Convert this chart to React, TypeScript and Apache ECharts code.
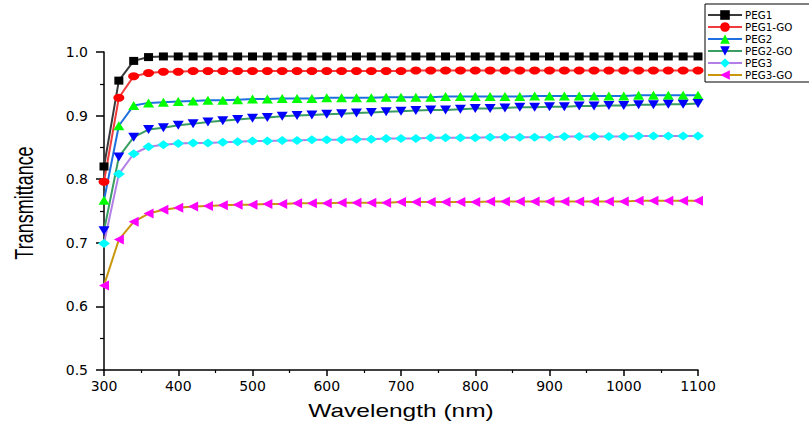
import React, { useEffect, useRef } from "react";
import * as echarts from "echarts";

const wavelengths = [
  300, 320, 340, 360, 380, 400, 420, 440, 460, 480, 500, 520, 540, 560, 580, 600, 620, 640, 660, 680, 700,
  720, 740, 760, 780, 800, 820, 840, 860, 880, 900, 920, 940, 960, 980, 1000, 1020, 1040, 1060, 1080, 1100,
];

const peg1 = [
  0.820, 0.955, 0.986, 0.992, 0.993, 0.993, 0.993, 0.993, 0.993, 0.993, 0.993, 0.993, 0.993, 0.993, 0.993,
  0.993, 0.993, 0.993, 0.993, 0.993, 0.993, 0.993, 0.993, 0.993, 0.993, 0.993, 0.993, 0.993, 0.993, 0.993,
  0.993, 0.993, 0.993, 0.993, 0.993, 0.993, 0.993, 0.993, 0.993, 0.993, 0.993,
];
const peg1go = [
  0.796, 0.928, 0.962, 0.967, 0.969, 0.969, 0.970, 0.970, 0.970, 0.970, 0.970, 0.970, 0.970, 0.970, 0.970,
  0.970, 0.970, 0.970, 0.970, 0.970, 0.970, 0.971, 0.971, 0.971, 0.971, 0.971, 0.971, 0.971, 0.971, 0.971,
  0.971, 0.971, 0.971, 0.971, 0.971, 0.971, 0.971, 0.971, 0.971, 0.971, 0.971,
];
const peg2 = [
  0.767, 0.884, 0.916, 0.920, 0.921, 0.922, 0.923, 0.924, 0.924, 0.925, 0.926, 0.926, 0.927, 0.927, 0.927,
  0.928, 0.928, 0.928, 0.928, 0.929, 0.929, 0.929, 0.929, 0.930, 0.930, 0.930, 0.930, 0.930, 0.930, 0.931,
  0.931, 0.931, 0.931, 0.931, 0.931, 0.931, 0.932, 0.932, 0.932, 0.932, 0.932,
];
const peg2go = [
  0.719, 0.835, 0.866, 0.878, 0.881, 0.885, 0.887, 0.890, 0.892, 0.894, 0.896, 0.897, 0.899, 0.900, 0.901,
  0.902, 0.903, 0.904, 0.905, 0.906, 0.907, 0.908, 0.909, 0.909, 0.910, 0.911, 0.911, 0.912, 0.913, 0.913,
  0.914, 0.914, 0.915, 0.915, 0.916, 0.916, 0.917, 0.917, 0.918, 0.918, 0.919,
];
const peg3 = [
  0.699, 0.808, 0.840, 0.851, 0.854, 0.856, 0.857, 0.857, 0.858, 0.859, 0.860, 0.860, 0.861, 0.861, 0.862,
  0.862, 0.862, 0.863, 0.863, 0.864, 0.864, 0.864, 0.865, 0.865, 0.865, 0.865, 0.866, 0.866, 0.866, 0.866,
  0.866, 0.867, 0.867, 0.867, 0.867, 0.867, 0.868, 0.868, 0.868, 0.868, 0.868,
];
const peg3go = [
  0.633, 0.705, 0.733, 0.746, 0.752, 0.755, 0.757, 0.758, 0.759, 0.760, 0.760, 0.761, 0.761, 0.762, 0.762,
  0.762, 0.763, 0.763, 0.763, 0.763, 0.764, 0.764, 0.764, 0.764, 0.764, 0.764, 0.765, 0.765, 0.765, 0.765,
  0.765, 0.765, 0.765, 0.765, 0.765, 0.765, 0.766, 0.766, 0.766, 0.766, 0.766,
];

const seriesNames = ["PEG1", "PEG1-GO", "PEG2", "PEG2-GO", "PEG3", "PEG3-GO"];
const seriesValues = [peg1, peg1go, peg2, peg2go, peg3, peg3go];
const lineColors = ["#3a3a3a", "#f03c3c", "#1f6fe0", "#3a9e62", "#b37fe6", "#c9960c"];
const markerColors = ["#000000", "#ff0000", "#00ff00", "#0000ff", "#00ffff", "#ff00ff"];
const markerShapes = [
  "rect",
  "circle",
  "triangle",
  "path://M0,0L10,0L5,8Z",
  "diamond",
  "path://M0,5L10,0L10,10Z",
];
const markerSizes: any[] = [[9, 8], [11, 8], [11, 9], [11, 9], [12, 9], [10, 10]];

const xTickInterval = 100;
const yTickInterval = 0.1;

export default function App() {
  const ref = useRef<HTMLDivElement>(null);
  useEffect(() => {
    document.body.style.margin = "0";
    if (!ref.current) return;
    const chart = echarts.init(ref.current, null, { renderer: "svg" });
    const axisFont = "DejaVu Sans";
    chart.setOption({
      animation: false,
      backgroundColor: "#ffffff",
      grid: { left: 104, top: 52, width: 594, height: 318 },
      xAxis: {
        type: "value",
        min: 300,
        max: 1100,
        interval: xTickInterval,
        axisLine: { show: true, onZero: false, lineStyle: { color: "#000", width: 1.5 } },
        axisTick: { show: true, inside: false, length: 6, lineStyle: { color: "#000", width: 1.5 } },
        minorTick: { show: true, splitNumber: 2, length: 3, lineStyle: { color: "#000", width: 1.2 } },
        splitLine: { show: false },
        axisLabel: {
          color: "#000",
          fontFamily: axisFont,
          fontSize: 14,
          margin: 9,
          formatter: (v: number) => String(v),
        },
      },
      yAxis: {
        type: "value",
        min: 0.5,
        max: 1.0,
        interval: yTickInterval,
        axisLine: { show: true, onZero: false, lineStyle: { color: "#000", width: 1.5 } },
        axisTick: { show: true, inside: false, length: 8, lineStyle: { color: "#000", width: 1.5 } },
        minorTick: { show: true, splitNumber: 2, length: 4, lineStyle: { color: "#000", width: 1.2 } },
        splitLine: { show: false },
        axisLabel: {
          color: "#000",
          fontFamily: axisFont,
          fontSize: 14,
          margin: 16,
          formatter: (v: number) => v.toFixed(1),
        },
      },
      legend: {
        orient: "vertical",
        left: 705,
        top: 4,
        itemWidth: 34,
        itemHeight: 12,
        itemGap: 0,
        padding: [5, 40, 1, 2],
        borderColor: "#000",
        borderWidth: 1,
        backgroundColor: "#fff",
        textStyle: {
          color: "#000",
          fontFamily: axisFont,
          fontSize: 10.3,
          lineHeight: 12,
          padding: [0, 0, 0, -2],
        },
        data: seriesNames,
      },
      graphic: [
        {
          type: "text",
          x: 24,
          y: 203,
          rotation: Math.PI / 2,
          scaleY: 1.4,
          style: {
            text: "Transmittance",
            fontFamily: "Liberation Sans, Arial",
            fontSize: 18,
            fill: "#000",
            align: "center",
            verticalAlign: "middle",
          },
        },
        {
          type: "text",
          x: 401,
          y: 411,
          scaleX: 1.36,
          style: {
            text: "Wavelength (nm)",
            fontFamily: "Liberation Sans, Arial",
            fontSize: 18,
            fill: "#000",
            align: "center",
            verticalAlign: "middle",
          },
        },
      ],
      series: seriesNames.map((name, i) => ({
        name,
        type: "line",
        data: wavelengths.map((w, j) => [w, seriesValues[i][j]]),
        symbol: markerShapes[i],
        symbolSize: markerSizes[i],
        showAllSymbol: true,
        clip: false,
        lineStyle: { color: lineColors[i], width: 2 },
        itemStyle: { color: markerColors[i], borderWidth: 0 },
        emphasis: { disabled: true },
      })),
    });
    return () => chart.dispose();
  }, []);
  return <div ref={ref} style={{ width: 809, height: 421 }} />;
}
